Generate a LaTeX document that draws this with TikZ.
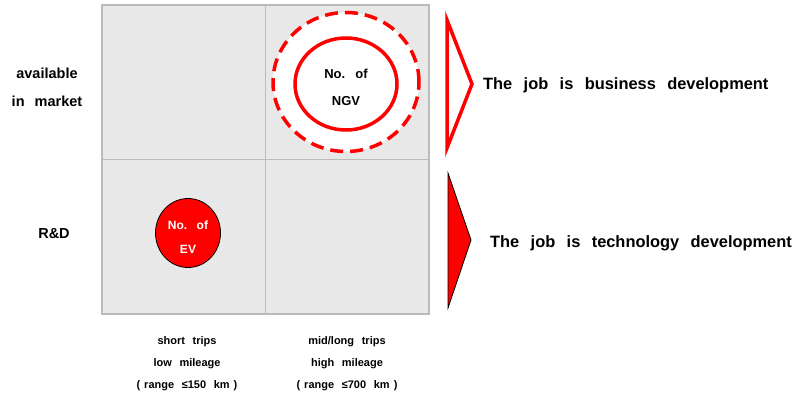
\documentclass[tikz,border=0pt]{standalone}
\usepackage{fontspec}
\setsansfont[WordSpace=2.5]{Liberation Sans}
\usetikzlibrary{shapes.geometric,positioning,calc}
\definecolor{cellgray}{RGB}{232,232,232}
\definecolor{gridgray}{RGB}{187,187,187}
\definecolor{markred}{RGB}{255,0,0}
\definecolor{ink}{RGB}{0,0,0}
\tikzset{
	cell/.style={draw=gridgray,fill=cellgray,line width=1.2pt,inner sep=0pt,
		minimum width=163.5pt,minimum height=154.5pt},
	rowlabel/.style={align=center,text=ink,font=\sffamily\bfseries\fontsize{14.5}{28}\selectfont},
	collabel/.style={align=center,text=ink,font=\sffamily\bfseries\fontsize{11}{22}\selectfont},
	joblabel/.style={anchor=base west,text=ink,inner sep=0pt,font=\sffamily\bfseries\fontsize{16.4}{19}\selectfont},
	zone/.style={ellipse,draw=markred,fill=white,line width=3.5pt,dash pattern=on 13pt off 7pt,inner sep=0pt},
	market/.style={ellipse,draw=markred,fill=white,line width=3.5pt,align=center,inner sep=0pt,
		font=\sffamily\bfseries\fontsize{13}{27}\selectfont},
	research/.style={ellipse,draw=ink,fill=markred,line width=0.8pt,align=center,inner sep=0pt,
		text=white,font=\sffamily\bfseries\fontsize{12}{24}\selectfont},
}
\begin{document}
\begin{tikzpicture}[x=1pt,y=-1pt]
	\useasboundingbox (0,0) rectangle (796,396);
	
	% two by two grid: rows = stage, columns = trip length
	\node[cell] (tl) at (183.75,82.25) {};
	\node[cell] (tr) at (347.25,82.25) {};
	\node[cell] (bl) at (183.75,236.75) {};
	\node[cell] (br) at (347.25,236.75) {};
	
	\node[rowlabel] (avail) at (47,87) {available\\in market};
	\node[rowlabel] (rd) at (54,234) {R\&D};
	
	\node[collabel] (short) at (187,364) {short trips\\low mileage\\(\hspace{4pt}range ≤150 km\hspace{4pt})};
	\node[collabel] (long) at (347,364) {mid/long trips\\high mileage\\(\hspace{4pt}range ≤700 km\hspace{4pt})};
	
	% NGV sits in the market, EV still in research
	\node[zone,minimum width=146pt,minimum height=139pt] (ngvzone) at (346,82) {};
	\node[market,minimum width=102pt,minimum height=92pt] (ngv) at (346,84) {};
	\node[font=\sffamily\bfseries\fontsize{13}{27}\selectfont,align=center] (ngvtext) at (346,87) {No. of\\NGV};
	\node[research,minimum width=65pt,minimum height=69pt] (ev) at (188,233) {};
	\node[font=\sffamily\bfseries\fontsize{12}{24}\selectfont,align=center,text=white] (evtext) at (188,237) {No. of\\EV};
	
	% chevrons pointing at the conclusions
	\draw[draw=markred,line width=3.5pt,line join=miter]
	(447,20) -- (472,84) -- (447,148) -- cycle;
	\draw[draw=ink,fill=markred,line width=0.8pt]
	(448,173) -- (471,240) -- (448,308) -- cycle;
	
	\node[joblabel] (business) at (483,89) {The job is business development};
	\node[joblabel] (technology) at (490,247) {The job is technology development};
	
\end{tikzpicture}
\end{document}
